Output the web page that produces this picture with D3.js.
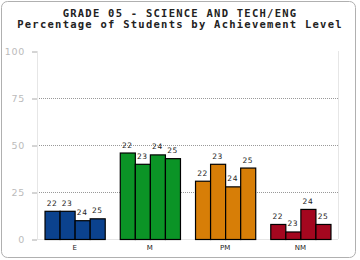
<!DOCTYPE html>
<html><head><meta charset="utf-8">
<script src="https://cdn.jsdelivr.net/npm/d3@7"></script>
<style>body{margin:0;background:#fff}svg{display:block}</style>
</head><body>
<script>
const categories = ["E","M","PM","NM"];
const years = ["22","23","24","25"];
const valuesE = [15,15,10,11];
const valuesM = [46,40,45,43];
const valuesPM = [31,40,28,38];
const valuesNM = [8,4,16,8];
const colors = ["#0b428e","#0b9426","#d77e07","#a4071f"];
const yTicks = [0,25,50,75,100];
const titleLines = ["GRADE 05 - SCIENCE AND TECH/ENG","Percentage of Students by Achievement Level"];

(function(){
const series = [valuesE, valuesM, valuesPM, valuesNM];
const W=360,H=260;
const svg=d3.select("body").append("svg").attr("width",W).attr("height",H);
svg.append("rect").attr("x",1.5).attr("y",1.5).attr("width",354).attr("height",256).attr("rx",6)
  .attr("fill","#fff").attr("stroke","#b0b0b0").attr("stroke-width",1);

const pL=37,pR=338,pT=51,pB=239;
const x=d3.scaleBand().domain(categories).range([pL,pR]).paddingInner(0.2).paddingOuter(0.1);
const y=d3.scaleLinear().domain([0,100]).range([pB,pT]);

svg.selectAll(".t").data(titleLines).enter().append("text")
  .attr("x",180).attr("y",(d,i)=>17+i*10.5).attr("text-anchor","middle")
  .attr("font-family","DejaVu Sans Mono").attr("font-weight","bold").attr("font-size",10.5)
  .attr("letter-spacing",1.25)
  .attr("fill","#222").text(d=>d);

svg.selectAll(".g").data(yTicks.filter(v=>v>0&&v<100)).enter().append("line")
  .attr("x1",pL).attr("x2",pR).attr("y1",d=>y(d)+0.5).attr("y2",d=>y(d)+0.5)
  .attr("stroke","#999").attr("stroke-dasharray","1,1");
svg.append("line").attr("x1",pL+0.5).attr("x2",pL+0.5).attr("y1",pT).attr("y2",pB).attr("stroke","#e6e6e6");
svg.append("line").attr("x1",pR+0.5).attr("x2",pR+0.5).attr("y1",pT).attr("y2",pB).attr("stroke","#e6e6e6");
svg.append("line").attr("x1",pL).attr("x2",pR).attr("y1",pB+0.5).attr("y2",pB+0.5).attr("stroke","#e6e6e6");

const ya=svg.append("g").attr("transform",`translate(${pL},0.5)`).call(d3.axisLeft(y).tickValues(yTicks).tickSize(5).tickPadding(7));
ya.select(".domain").remove();
ya.selectAll("line").attr("stroke","#aaa");
ya.selectAll("text").attr("font-family","DejaVu Sans").attr("font-size",9.5).attr("letter-spacing",0.7).attr("fill","#bbb");

svg.selectAll(".xl").data(categories).enter().append("text")
  .attr("x",d=>x(d)+x.bandwidth()/2).attr("y",250).attr("text-anchor","middle")
  .attr("font-family","DejaVu Sans").attr("font-size",7).attr("fill","#222").text(d=>d);

const xs=d3.scaleBand().domain(years).range([0,x.bandwidth()]);
categories.forEach((c,ci)=>{
  const g=svg.append("g").attr("transform",`translate(${x(c)},0)`);
  g.selectAll("rect").data(series[ci]).enter().append("rect")
    .attr("x",(d,i)=>xs(years[i])+0.5).attr("y",d=>y(d)+0.5)
    .attr("width",xs.bandwidth()).attr("height",d=>pB-y(d))
    .attr("fill",colors[ci]).attr("stroke","#000").attr("stroke-width",1.2);
  g.selectAll("text").data(series[ci]).enter().append("text")
    .attr("x",(d,i)=>xs(years[i])+xs.bandwidth()/2).attr("y",d=>y(d)-5)
    .attr("text-anchor","middle").attr("font-family","DejaVu Sans").attr("font-size",7.5)
    .attr("letter-spacing",0.5)
    .attr("fill","#222").text((d,i)=>years[i]);
});
})();
</script>
</body></html>
